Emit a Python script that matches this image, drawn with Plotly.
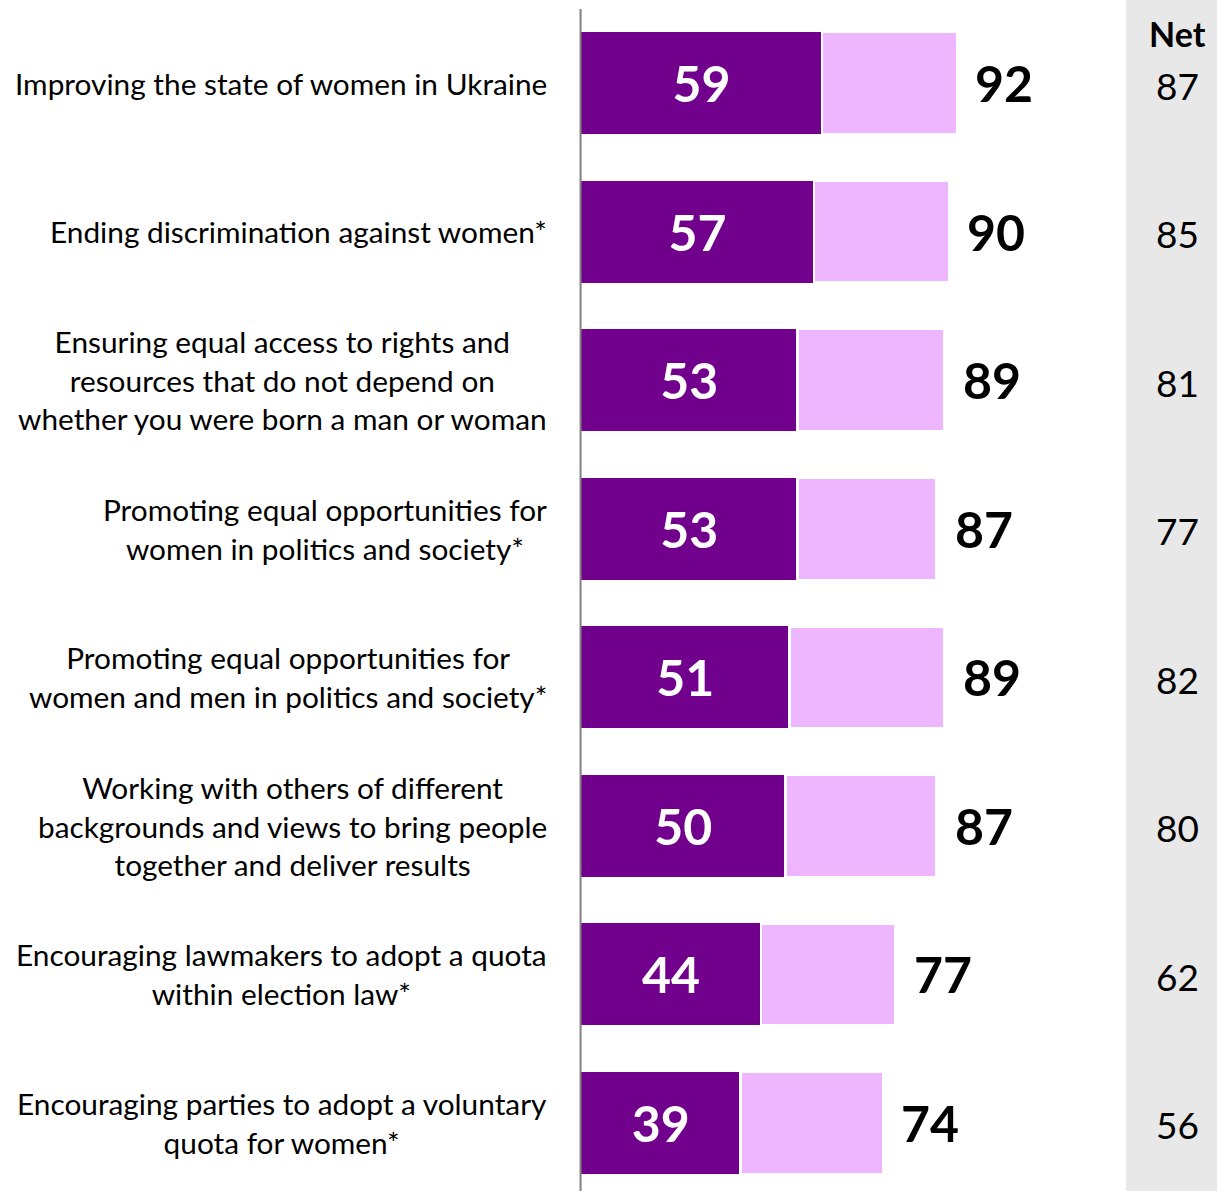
import plotly.graph_objects as go

labels = [
    'Improving the state of women in Ukraine',
    'Ending discrimination against women*',
    'Ensuring equal access to rights and<br>resources that do not depend on<br>whether you were born a man or woman',
    'Promoting equal opportunities for<br>women in politics and society*',
    'Promoting equal opportunities for<br>women and men in politics and society*',
    'Working with others of different<br>backgrounds and views to bring people<br>together and deliver results',
    'Encouraging lawmakers to adopt a quota<br>within election law*',
    'Encouraging parties to adopt a voluntary<br>quota for women*',
]
strongly = [59, 57, 53, 53, 51, 50, 44, 39]
total = [92, 90, 89, 87, 89, 87, 77, 74]
net = [87, 85, 81, 77, 82, 80, 62, 56]

DARK = '#71008D'
LIGHT = '#EEB6FE'
FONT = 'Lato'

pos = list(range(len(labels)))
rest = [t - s for t, s in zip(total, strongly)]

fig = go.Figure()
fig.add_trace(go.Bar(
    y=pos, x=strongly, orientation='h', width=0.687,
    marker=dict(color=DARK, line=dict(width=0)),
    text=strongly, textposition='inside', insidetextanchor='middle',
    textfont=dict(family=FONT, size=50, color='white', weight='bold'),
    hoverinfo='skip',
))
fig.add_trace(go.Bar(
    y=pos, x=rest, orientation='h', width=0.687,
    marker=dict(color=LIGHT, line=dict(width=2.5, color='white')),
    hoverinfo='skip',
))

# totals to the right of the bars
for i, t in enumerate(total):
    fig.add_annotation(x=t, y=i, text=str(t), showarrow=False,
                       xanchor='left', xshift=16,
                       font=dict(family=FONT, size=50, color='black', weight='bold'))

# category labels
for i, lab in enumerate(labels):
    fig.add_annotation(x=-0.0454, xref='paper', y=i, yref='y', text=lab,
                       showarrow=False, xanchor='right', align='center',
                       font=dict(family=FONT, size=29.8, color='black'))

# net column
fig.add_shape(type='rect', xref='x', yref='paper', x0=133.4, x1=160, y0=0, y1=1,
              fillcolor='#E8E8E8', line=dict(width=0), layer='below')
fig.add_annotation(x=145.86, y=0.972, yref='paper', yanchor='middle', text='Net',
                   showarrow=False,
                   font=dict(family=FONT, size=34, color='black', weight='bold'))
for i, n in enumerate(net):
    fig.add_annotation(x=145.86, y=i, text=str(n), showarrow=False, yshift=-2,
                       font=dict(family=FONT, size=37, color='black'))

# vertical axis line
fig.add_shape(type='line', xref='x', yref='paper', x0=-0.12, x1=-0.12, y0=0, y1=0.9924,
              line=dict(color='#808080', width=2))

fig.update_layout(
    width=1217, height=1191,
    margin=dict(l=578, r=0, t=0, b=0),
    barmode='stack', showlegend=False,
    paper_bgcolor='white', plot_bgcolor='white',
    xaxis=dict(range=[-0.75, 155.65], visible=False, fixedrange=True),
    yaxis=dict(range=[7.458, -0.559], visible=False, fixedrange=True),
    font=dict(family=FONT),
)
fig.write_html('out.html', config={'displayModeBar': False},
               post_script="document.body.style.margin='0';")
